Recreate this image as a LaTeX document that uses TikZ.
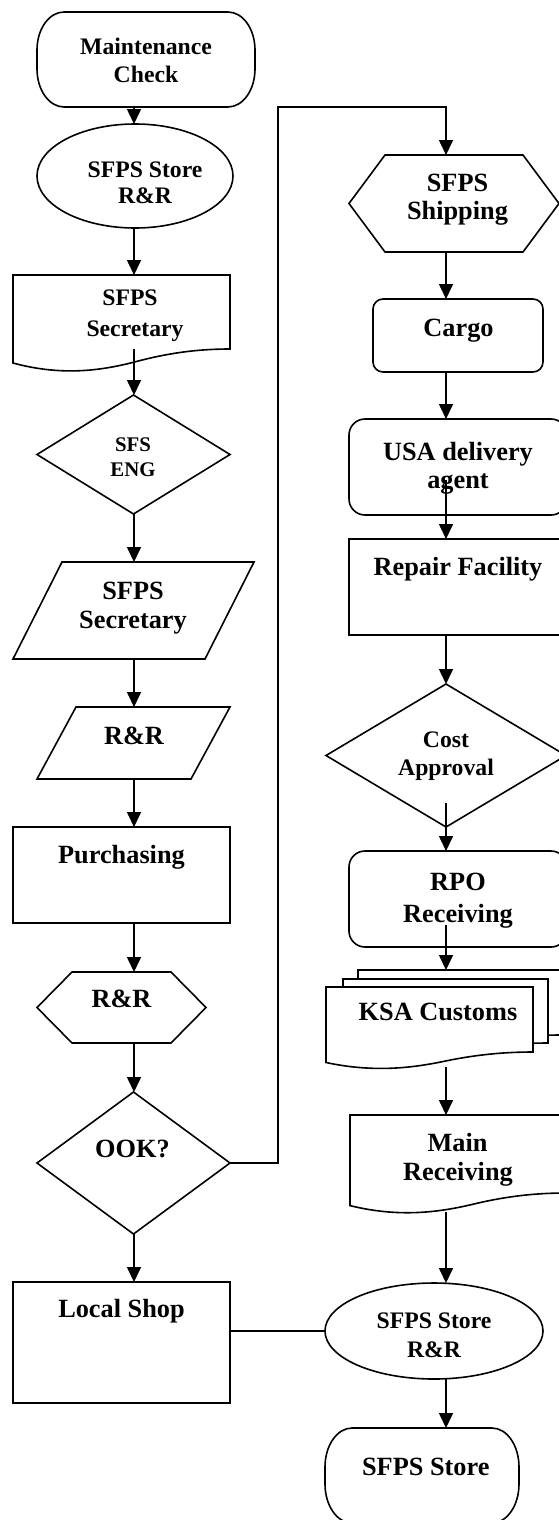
\documentclass[tikz,border=0pt]{standalone}
\usepackage{fontspec}
\setmainfont{Liberation Serif}
\usetikzlibrary{arrows.meta,shapes.geometric,calc}

\newcommand\FontBig{\fontsize{26.3}{30}\selectfont\bfseries}
\newcommand\FontMid{\fontsize{23.7}{27}\selectfont\bfseries}
\newcommand\FontSmall{\fontsize{20.8}{24}\selectfont\bfseries}

% document symbol: left x, right x, top y, bottom y at the right edge, wave depth factor
\newcommand\docoutline[5]{%
  \draw[fill=white] (#1,#3) -- (#2,#3) -- (#2,#4)
    .. controls ({#1+0.82*(#2-#1)},#4) and ({#1+0.68*(#2-#1)},{#4+6*#5}) .. ({#1+0.56*(#2-#1)},{#4+13*#5})
    .. controls ({#1+0.40*(#2-#1)},{#4+22*#5}) and ({#1+0.22*(#2-#1)},{#4+27*#5}) .. (#1,{#4+14*#5})
    -- cycle;}

% terminator symbol with elliptic corners: left, right, top, bottom, x radius, y radius
\newcommand\termoutline[6]{%
  \draw[fill=white] ({#1+#5},#3) -- ({#2-#5},#3)
    .. controls ({#2-0.4477*#5},#3) and (#2,{#3+0.4477*#6}) .. (#2,{#3+#6})
    -- (#2,{#4-#6})
    .. controls (#2,{#4-0.4477*#6}) and ({#2-0.4477*#5},#4) .. ({#2-#5},#4)
    -- ({#1+#5},#4)
    .. controls ({#1+0.4477*#5},#4) and (#1,{#4-0.4477*#6}) .. (#1,{#4-#6})
    -- (#1,{#3+#6})
    .. controls (#1,{#3+0.4477*#6}) and ({#1+0.4477*#5},#3) .. ({#1+#5},#3)
    -- cycle;}

\begin{document}
\begin{tikzpicture}[x=1pt,y=-1pt,line width=1.6pt,
  frame/.style={rectangle,inner sep=0pt,outer sep=0pt,draw=none},
  box/.style={rectangle,draw,fill=white,inner sep=0pt,outer sep=0pt},
  oval/.style={ellipse,draw,fill=white,inner sep=0pt,outer sep=0pt},
  lbl/.style={inner sep=0pt,anchor=base,font=\FontBig},
  lblm/.style={lbl,font=\FontMid},
  lbls/.style={lbl,font=\FontSmall},
  arr/.style={-{Triangle[length=15pt,width=14pt]}}]

\fill[white] (0,0) rectangle (559,1520);
\useasboundingbox (0,0) rectangle (559,1520);
\clip (0,0) rectangle (559,1520);

\coordinate (colL) at (134,0);
\coordinate (colR) at (446,0);

% ---------- left column ----------
\node[frame,minimum width=218pt,minimum height=95pt] (mcheck) at (146,59.5) {};
\termoutline{37}{255}{12}{107}{27}{38}
\node[oval,minimum width=196pt,minimum height=104pt] (storeA) at (135,176) {};
\node[frame,minimum width=217pt,minimum height=74pt] (secA) at (121.5,312) {};
\docoutline{13}{230}{275}{349}{1}
\node[frame,minimum width=193pt,minimum height=119pt] (sfs) at (133.5,454.5) {};
\draw[fill=white] (sfs.north) -- (sfs.east) -- (sfs.south) -- (sfs.west) -- cycle;
\node[frame,minimum width=241pt,minimum height=97pt] (secB) at (133.5,610.5) {};
\draw[fill=white] ([xshift=49pt]secB.north west) -- (secB.north east)
  -- ([xshift=-49pt]secB.south east) -- (secB.south west) -- cycle;
\node[frame,minimum width=193pt,minimum height=72pt] (rrA) at (133.5,743) {};
\draw[fill=white] ([xshift=39pt]rrA.north west) -- (rrA.north east)
  -- ([xshift=-39pt]rrA.south east) -- (rrA.south west) -- cycle;
\node[box,minimum width=217pt,minimum height=96pt] (purch) at (121.5,875) {};
\node[frame,minimum width=169pt,minimum height=71pt] (rrB) at (121.5,1007.5) {};
\draw[fill=white] ([xshift=35pt]rrB.north west) -- ([xshift=-35pt]rrB.north east) -- (rrB.east)
  -- ([xshift=-35pt]rrB.south east) -- ([xshift=35pt]rrB.south west) -- (rrB.west) -- cycle;
\node[frame,minimum width=193pt,minimum height=142pt] (ook) at (133.5,1163) {};
\draw[fill=white] (ook.north) -- (ook.east) -- (ook.south) -- (ook.west) -- cycle;
\node[box,minimum width=217pt,minimum height=121pt] (local) at (121.5,1342.5) {};

% ---------- right column ----------
\node[frame,minimum width=210pt,minimum height=97pt] (ship) at (454,203.5) {};
\draw[fill=white] ([xshift=36pt]ship.north west) -- ([xshift=-36pt]ship.north east) -- (ship.east)
  -- ([xshift=-36pt]ship.south east) -- ([xshift=36pt]ship.south west) -- (ship.west) -- cycle;
\node[box,rounded corners=10pt,minimum width=170pt,minimum height=73pt] (cargo) at (458,335.5) {};
\node[box,rounded corners=16pt,minimum width=218pt,minimum height=96pt] (usa) at (458,467) {};
\node[box,minimum width=218pt,minimum height=96pt] (repair) at (458,587) {};
\node[frame,minimum width=240pt,minimum height=143pt] (cost) at (446,755.5) {};
\draw[fill=white] (cost.north) -- (cost.east) -- (cost.south) -- (cost.west) -- cycle;
\node[box,rounded corners=16pt,minimum width=218pt,minimum height=96pt] (rpo) at (458,899) {};
\node[frame,minimum width=203pt,minimum height=65pt] (ksaC) at (459.5,1002.5) {};
\node[frame,minimum width=205pt,minimum height=64pt] (ksaB) at (445.5,1011) {};
\node[frame,minimum width=207pt,minimum height=65pt] (ksaA) at (429.5,1019.5) {};
\docoutline{358}{561}{970}{1035}{0.75}
\docoutline{343}{548}{979}{1043}{0.75}
\docoutline{326}{533}{987}{1052}{0.75}
\node[frame,minimum width=216pt,minimum height=78pt] (main) at (458,1154) {};
\docoutline{350}{566}{1115}{1193}{0.9}
\node[oval,minimum width=218pt,minimum height=96pt] (storeB) at (434,1331) {};
\node[frame,minimum width=194pt,minimum height=95pt] (final) at (422,1475.5) {};
\termoutline{325}{519}{1428}{1523}{27}{39}

% ---------- labels ----------
\node[lblm] (mcheck-a) at (146,55) {Maintenance};
\node[lblm] (mcheck-b) at (146,82) {Check};
\node[lblm] (storeA-a) at (145,177) {SFPS Store};
\node[lblm] (storeA-b) at (145,203) {R\&R};
\node[lblm] (secA-a) at (130,305) {SFPS};
\node[lblm] (secA-b) at (135,336) {Secretary};
\node[lbls] (sfs-a) at (133,451.7) {SFS};
\node[lbls] (sfs-b) at (133,476) {ENG};
\node[lbl] (secB-a) at (133,599) {SFPS};
\node[lbl] (secB-b) at (133,628) {Secretary};
\node[lbl] (rrA-t) at (134,744) {R\&R};
\node[lbl] (purch-t) at (121.5,863) {Purchasing};
\node[lbl] (rrB-t) at (121.5,1007) {R\&R};
\node[lbl] (ook-t) at (132.5,1157) {OOK?};
\node[lbl] (local-t) at (121.5,1317) {Local Shop};

\node[lbl] (ship-a) at (457.5,191.7) {SFPS};
\node[lbl] (ship-b) at (457.5,219) {Shipping};
\node[lbl] (cargo-t) at (458.5,336.5) {Cargo};
\node[lbl] (usa-a) at (458,460) {USA delivery};
\node[lbl] (usa-b) at (458,488) {agent};
\node[lbl] (repair-t) at (458,575) {Repair Facility};
\node[lblm] (cost-a) at (446,747) {Cost};
\node[lblm] (cost-b) at (446,775) {Approval};
\node[lbl] (rpo-a) at (458,890) {RPO};
\node[lbl] (rpo-b) at (458,922) {Receiving};
\node[lbl] (ksa-t) at (438,1020) {KSA Customs};
\node[lbl] (main-a) at (457.5,1151) {Main};
\node[lbl] (main-b) at (458,1180) {Receiving};
\node[lblm] (storeB-a) at (434,1328) {SFPS Store};
\node[lblm] (storeB-b) at (434,1357) {R\&R};
\node[lbl] (final-t) at (425.8,1475) {SFPS Store};

% ---------- connectors ----------
\draw[arr] (mcheck.south -| colL) -- (storeA.north -| colL);
\draw[arr] (storeA.south -| colL) -- (secA.north -| colL);
\draw[arr] (secA.south -| colL) -- (sfs.north -| colL);
\draw[arr] (sfs.south -| colL) -- (secB.north -| colL);
\draw[arr] (secB.south -| colL) -- (rrA.north -| colL);
\draw[arr] (rrA.south -| colL) -- (purch.north -| colL);
\draw[arr] (purch.south -| colL) -- (rrB.north -| colL);
\draw[arr] (rrB.south -| colL) -- (ook.north -| colL);
\draw[arr] (ook.south -| colL) -- (local.north -| colL);

\coordinate (loopTop) at (278,107);
\draw[arr] (ook.east) -| (loopTop) -- (loopTop -| colR) -- (ship.north -| colR);

\draw[arr] (ship.south -| colR) -- (cargo.north -| colR);
\draw[arr] (cargo.south -| colR) -- (usa.north -| colR);
\draw[arr] ($(usa.south -| colR)+(0,-35)$) -- (repair.north -| colR);
\draw[arr] (repair.south -| colR) -- (cost.north);
\draw[arr] ($(cost.south)+(0,-24)$) -- (rpo.north -| colR);
\draw[arr] ($(rpo.south -| colR)+(0,-22)$) -- (ksaC.north -| colR);
\draw[arr] ($(ksaA.south -| colR)+(0,15)$) -- (main.north -| colR);
\draw[arr] ($(main.south -| colR)+(0,19)$) -- (storeB.north -| colR);
\draw[arr] (storeB.south -| colR) -- (final.north -| colR);
\draw (storeB.west) -- (storeB.west -| local.east);

\end{tikzpicture}
\end{document}
